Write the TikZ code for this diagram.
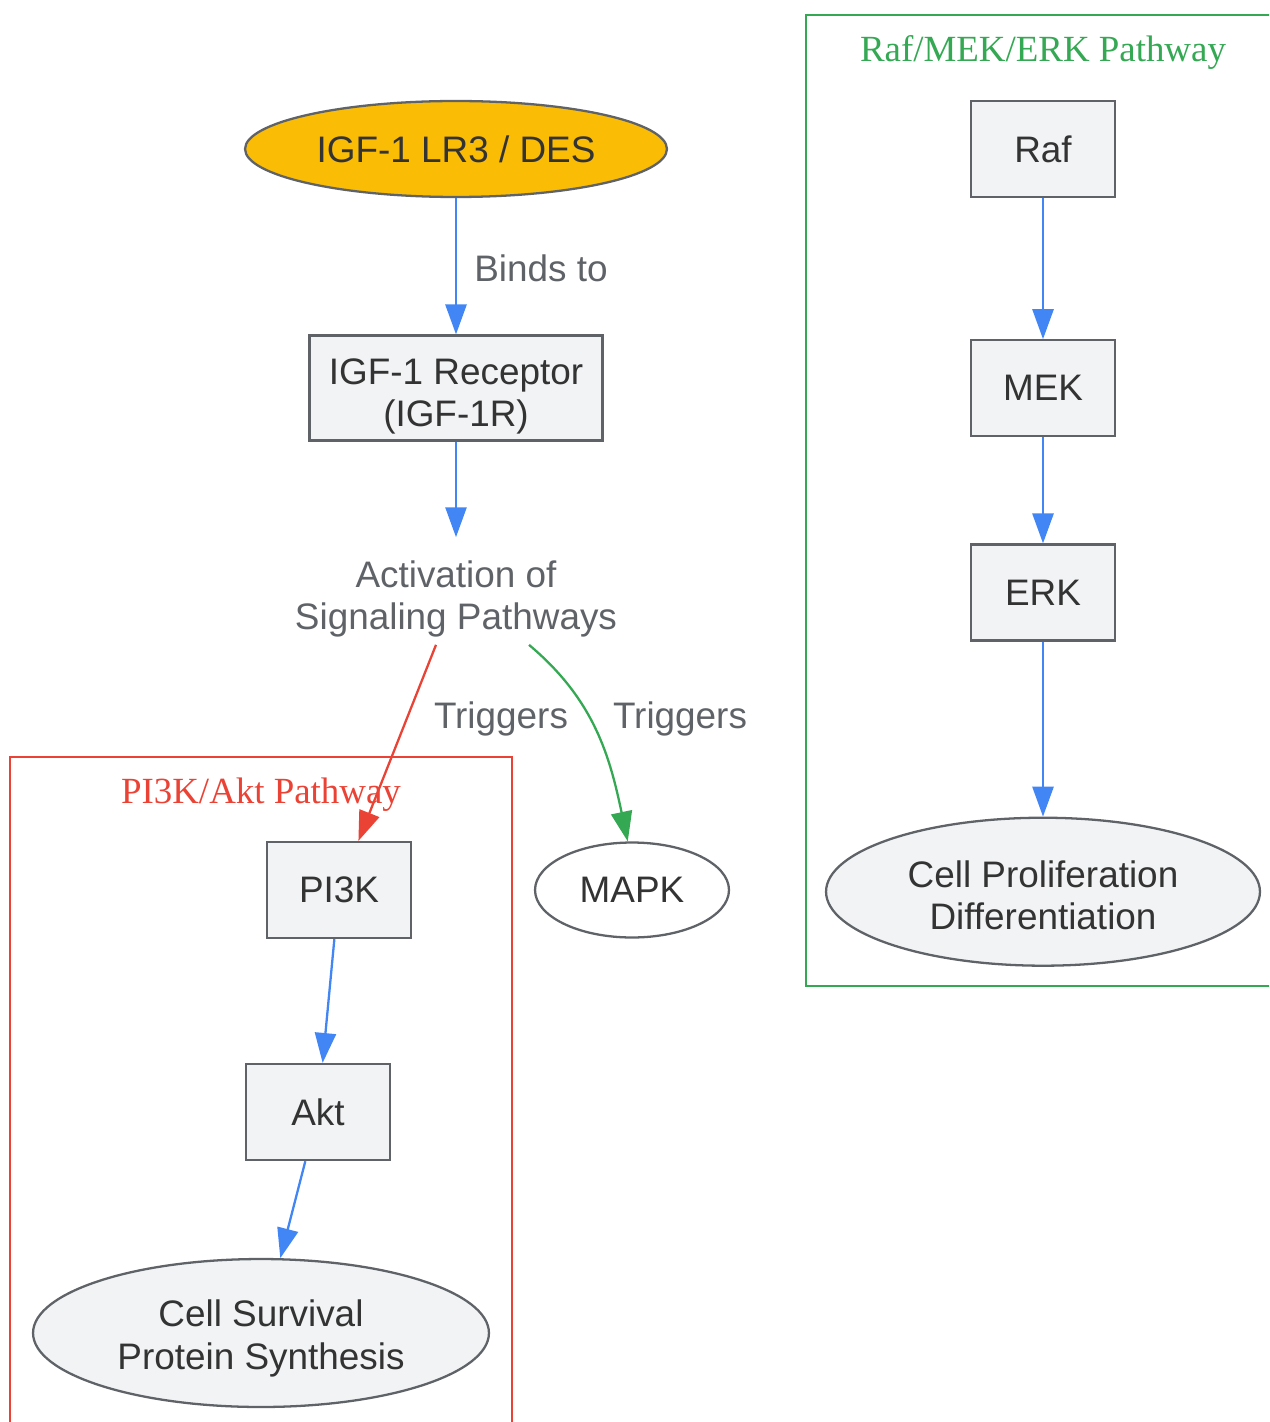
\documentclass[tikz,border=0pt]{standalone}
\usepackage{fontspec}
\setmainfont{Liberation Serif}
\setsansfont{Liberation Sans}
\usetikzlibrary{arrows.meta}
\usetikzlibrary{positioning}
\usetikzlibrary{shapes.geometric}
\usetikzlibrary{calc}

\definecolor{gblue}{HTML}{4285F4}
\definecolor{gred}{HTML}{EA4335}
\definecolor{ggreen}{HTML}{34A853}
\definecolor{gamber}{HTML}{FBBC05}
\definecolor{ggray}{HTML}{5F6368}
\definecolor{gfill}{HTML}{F1F3F4}
\definecolor{gtext}{HTML}{333333}

% invisible strut that lowers a two-line label a little
\newcommand{\lowerby}[1]{\rule{0pt}{#1}}

\tikzset{
    box/.style = {rectangle, draw=ggray, fill=gfill, line width=1.3pt, text=gtext,
        font=\sffamily\fontsize{21}{24}\selectfont, align=center,
        minimum width=2.88cm, minimum height=1.92cm},
    oval/.style = {ellipse, draw=ggray, fill=gfill, line width=1.3pt, inner sep=0pt,
        text=gtext, font=\sffamily\fontsize{21}{24}\selectfont, align=center},
    lbl/.style = {text=ggray, font=\sffamily\fontsize{21}{24}\selectfont, align=center},
    flow/.style = {-{Triangle[length=17pt, width=12pt]}, line width=1.3pt},
    cluster/.style = {line width=1.3pt},
    clustertitle/.style = {font=\rmfamily\fontsize{21}{24}\selectfont}
}

\begin{document}
\begin{tikzpicture}[x=0.02cm, y=-0.02cm]

            \useasboundingbox (0,0) rectangle (1269,1422);
            \clip (0,0) rectangle (1269,1422);

            % pathway frames
            \draw[cluster, draw=gred]   (10,757) rectangle (512,1450);
            \draw[cluster, draw=ggreen] (806,15) rectangle (1300,986);
            \node[clustertitle, text=gred]   (pi3k_t) at (261,795) {PI3K/Akt Pathway};
            \node[clustertitle, text=ggreen] (raf_t)  at (1043,52) {Raf/MEK/ERK Pathway};

            % main column
            \node[oval, fill=gamber, minimum width=8.44cm, minimum height=1.92cm] (igf) at (456,149) {IGF-1 LR3 / DES};
            \node[box, minimum width=5.86cm, minimum height=2.1cm] (igf_r) at (456,388) {\lowerby{24pt}IGF-1 Receptor\\(IGF-1R)};
            \node[lbl, minimum height=2.14cm] (act) at (456,591) {\lowerby{24pt}Activation of\\Signaling Pathways};
            \node[oval, fill=white, minimum width=3.88cm, minimum height=1.9cm] (mapk) at (632,890) {MAPK};

            % PI3K/Akt
            \node[box] (pi3k) at (339,890)  {PI3K};
            \node[box] (akt)  at (318,1112) {Akt};
            \node[oval, minimum width=9.12cm, minimum height=2.96cm] (surv) at (261,1333) {\lowerby{21.5pt}Cell Survival\\Protein Synthesis};

            % Raf/MEK/ERK
            \node[box] (raf) at (1043,149) {Raf};
            \node[box] (mek) [below = 2.82cm of raf] {MEK};
            \node[box] (erk) [below = 2.12cm of mek] {ERK};
            \node[oval, minimum width=8.68cm, minimum height=2.96cm] (prolif) [below = 3.50cm of erk] {\lowerby{19.5pt}Cell Proliferation\\Differentiation};

            % edge labels
            \node[lbl] (binds) at (541,268) {Binds to};
            \node[lbl] (trig_1) at (501,719) {Triggers};
            \node[lbl] (trig_2) at (680,719) {Triggers};

            \path[flow]
                (igf) edge[gblue] (igf_r)
                (igf_r) edge[gblue] (act)
                ($(act.south)+(-20,0)$) edge[gred] (pi3k)
                ($(act.south)+(73,0)$) edge[ggreen, out=-40, in=102] (mapk.95)
                (pi3k) edge[gblue] (akt)
                (akt) edge[gblue] (surv)
                (raf) edge[gblue] (mek)
                (mek) edge[gblue] (erk)
                (erk) edge[gblue] (prolif);

        \end{tikzpicture}
\end{document}
